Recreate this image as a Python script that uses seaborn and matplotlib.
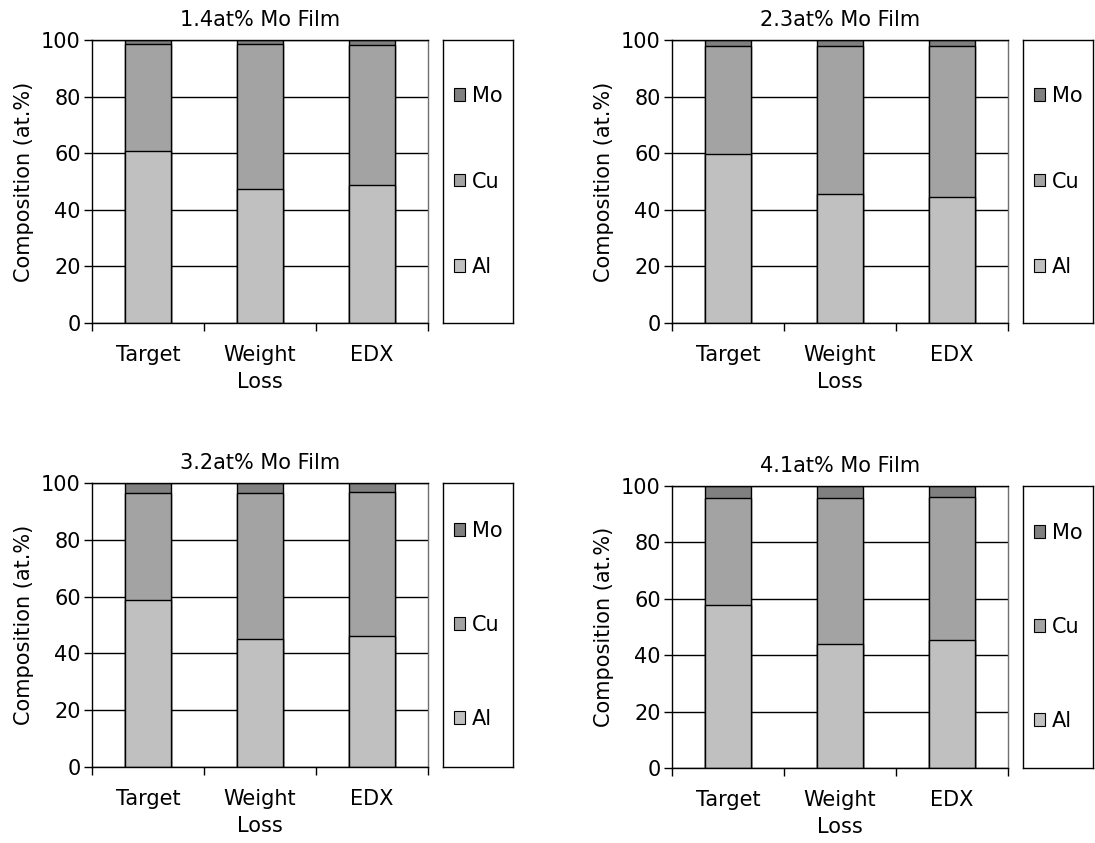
import matplotlib
matplotlib.use("Agg")
import matplotlib.pyplot as plt
import seaborn as sns
import pandas as pd
from matplotlib.patches import Patch

sns.set_theme(style="white")
plt.rcParams['font.family'] = ['DejaVu Sans']
for k in ["text.color", "axes.labelcolor", "xtick.color", "ytick.color"]:
    plt.rcParams[k] = "black"

categories = ["Target", "Weight\nLoss", "EDX"]
titles = ["1.4at% Mo Film", "2.3at% Mo Film", "3.2at% Mo Film", "4.1at% Mo Film"]
elements = ["Mo", "Cu", "Al"]

al_values = [
    [60.9, 47.4, 48.8],
    [59.6, 45.5, 44.6],
    [58.8, 45.0, 46.0],
    [57.7, 43.9, 45.3],
]
cu_values = [
    [37.7, 51.3, 49.6],
    [38.4, 52.5, 53.4],
    [37.7, 51.5, 50.9],
    [38.0, 51.8, 50.9],
]
mo_values = [
    [1.4, 1.3, 1.6],
    [2.0, 2.0, 2.0],
    [3.5, 3.5, 3.1],
    [4.3, 4.3, 3.8],
]

colors = {"Al": "#C0C0C0", "Cu": "#A3A3A3", "Mo": "#808080"}
FS = 15

W, H = 1095, 843
fig = plt.figure(figsize=(W / 100, H / 100), dpi=100)

# axes boxes in pixels: left, top, right, bottom
boxes = [(92, 40, 428, 323), (672, 40, 1008, 323),
         (92, 483, 428, 767), (672, 486, 1008, 768)]
leg_boxes = [(443, 40, 513, 323), (1023, 40, 1093, 323),
             (443, 483, 513, 767), (1023, 486, 1093, 768)]
leg_spacing = [3.15, 3.15, 3.55, 3.55]

def to_fig(b):
    l, t, r, bt = b
    return [l / W, 1 - bt / H, (r - l) / W, (bt - t) / H]

for i in range(4):
    ax = fig.add_axes(to_fig(boxes[i]))
    df = pd.DataFrame({"cat": categories, "Al": al_values[i],
                       "Cu": cu_values[i], "Mo": mo_values[i]})
    df["AlCu"] = df["Al"] + df["Cu"]
    df["Total"] = df["AlCu"] + df["Mo"]
    ax.set_axisbelow(True)
    ax.yaxis.grid(True, color="black", linewidth=1)
    for col, el in [("Total", "Mo"), ("AlCu", "Cu"), ("Al", "Al")]:
        sns.barplot(data=df, x="cat", y=col, color=colors[el], width=0.41,
                    edgecolor="black", linewidth=1, saturation=1, ax=ax,
                    order=categories)
    ax.set_xlim(-0.5, 2.5)
    ax.set_ylim(0, 100)
    ax.set_yticks([0, 20, 40, 60, 80, 100])
    ax.set_yticklabels(["0", "20", "40", "60", "80", "100"], fontsize=FS)
    ax.set_xticks([-0.5, 0.5, 1.5, 2.5])
    ax.set_xticklabels([])
    ax.set_xticks([0, 1, 2], minor=True)
    ax.set_xticklabels(categories, minor=True, fontsize=FS, linespacing=1.45)
    ax.tick_params(axis="x", which="minor", length=0, pad=16)
    ax.tick_params(axis="x", which="major", length=6, width=1, color="black", direction="out")
    ax.tick_params(axis="y", length=6, width=1, color="black", direction="out", pad=2)
    ax.tick_params(bottom=True, left=True)
    ax.set_xlabel("")
    ax.set_ylabel("Composition (at.%)", fontsize=FS, labelpad=5)
    ax.set_title(titles[i], fontsize=FS, pad=10)
    for s in ax.spines.values():
        s.set_color("black")
        s.set_linewidth(1)
        s.set_visible(True)
    ax.spines["right"].set_color("#707070")

    lax = fig.add_axes(to_fig(leg_boxes[i]))
    lax.set_xticks([])
    lax.set_yticks([])
    lax.set_facecolor("white")
    for s in lax.spines.values():
        s.set_color("black")
        s.set_linewidth(1)
    handles = [Patch(facecolor=colors[e], edgecolor="black", linewidth=0.8) for e in elements]
    lax.legend(handles, elements, loc="center", frameon=False, fontsize=FS,
               labelspacing=leg_spacing[i], handlelength=0.55, handleheight=0.55,
               handletextpad=0.3, borderaxespad=0)

fig.savefig("out.png", dpi=100, facecolor="white")
